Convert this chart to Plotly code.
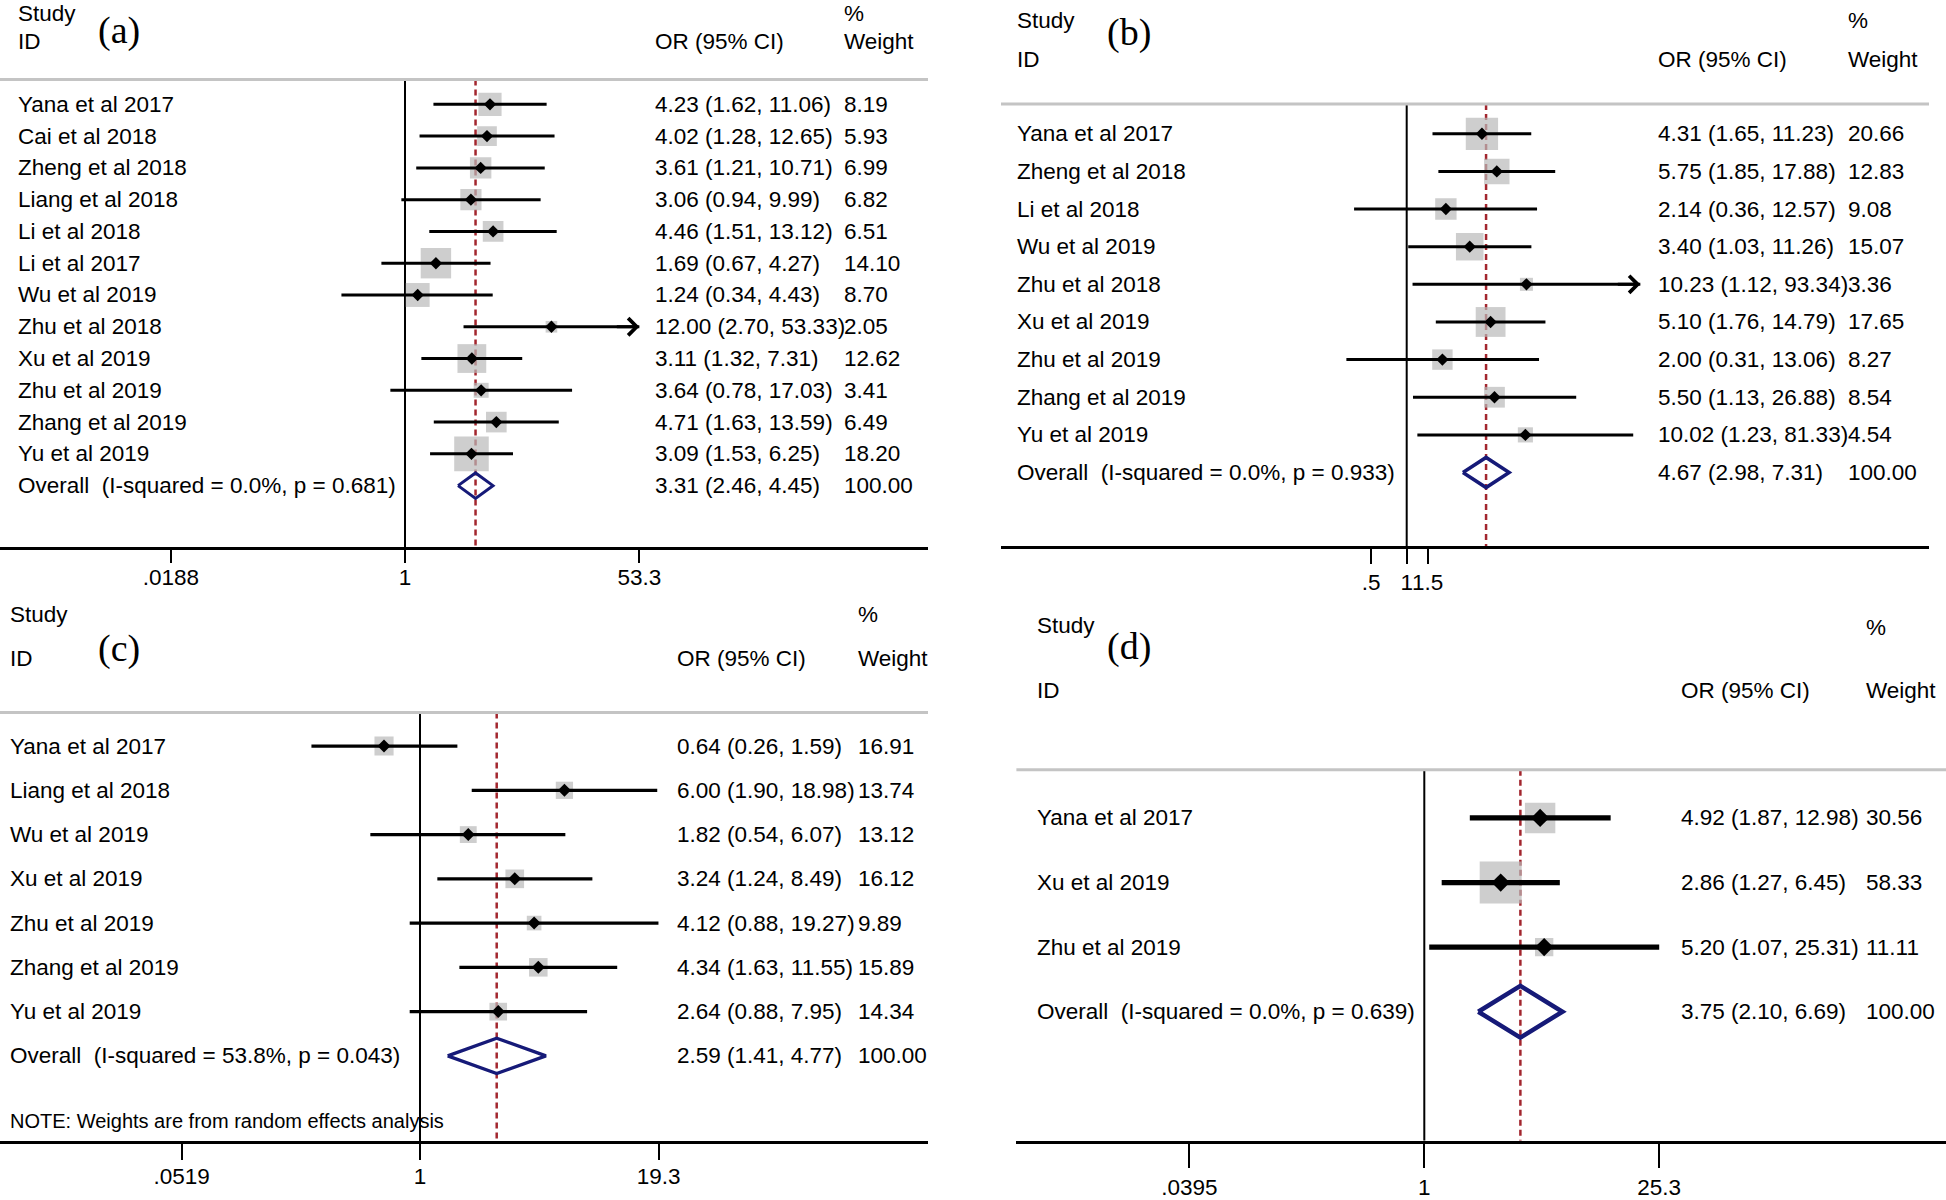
import numpy as np
import plotly.graph_objects as go

W, H = 1946, 1200
OFF = 0     # body margin is removed in the page, so the plot sits at (0, 0)
PAD = 3     # inner padding of annotation text

# ---- panel (a) ----
a_study = ["Yana et al 2017", "Cai et al 2018", "Zheng et al 2018", "Liang et al 2018",
           "Li et al 2018", "Li et al 2017", "Wu et al 2019", "Zhu et al 2018",
           "Xu et al 2019", "Zhu et al 2019", "Zhang et al 2019", "Yu et al 2019"]
a_or = [4.23, 4.02, 3.61, 3.06, 4.46, 1.69, 1.24, 12.00, 3.11, 3.64, 4.71, 3.09]
a_lo = [1.62, 1.28, 1.21, 0.94, 1.51, 0.67, 0.34, 2.70, 1.32, 0.78, 1.63, 1.53]
a_hi = [11.06, 12.65, 10.71, 9.99, 13.12, 4.27, 4.43, 53.33, 7.31, 17.03, 13.59, 6.25]
a_wt = [8.19, 5.93, 6.99, 6.82, 6.51, 14.10, 8.70, 2.05, 12.62, 3.41, 6.49, 18.20]
a_overall = [3.31, 2.46, 4.45]
a_overall_label = "Overall  (I-squared = 0.0%, p = 0.681)"
a_ticks = [0.0188, 1, 53.3]
a_ticktext = [".0188", "1", "53.3"]
a_arrows = ["Zhu et al 2018"]

# ---- panel (b) ----
b_study = ["Yana et al 2017", "Zheng et al 2018", "Li et al 2018", "Wu et al 2019",
           "Zhu et al 2018", "Xu et al 2019", "Zhu et al 2019", "Zhang et al 2019",
           "Yu et al 2019"]
b_or = [4.31, 5.75, 2.14, 3.40, 10.23, 5.10, 2.00, 5.50, 10.02]
b_lo = [1.65, 1.85, 0.36, 1.03, 1.12, 1.76, 0.31, 1.13, 1.23]
b_hi = [11.23, 17.88, 12.57, 11.26, 93.34, 14.79, 13.06, 26.88, 81.33]
b_wt = [20.66, 12.83, 9.08, 15.07, 3.36, 17.65, 8.27, 8.54, 4.54]
b_overall = [4.67, 2.98, 7.31]
b_overall_label = "Overall  (I-squared = 0.0%, p = 0.933)"
b_ticks = [0.5, 1, 1.5]
b_ticktext = [".5", "1", "1.5"]
b_arrows = ["Zhu et al 2018"]

# ---- panel (c) ----
c_study = ["Yana et al 2017", "Liang et al 2018", "Wu et al 2019", "Xu et al 2019",
           "Zhu et al 2019", "Zhang et al 2019", "Yu et al 2019"]
c_or = [0.64, 6.00, 1.82, 3.24, 4.12, 4.34, 2.64]
c_lo = [0.26, 1.90, 0.54, 1.24, 0.88, 1.63, 0.88]
c_hi = [1.59, 18.98, 6.07, 8.49, 19.27, 11.55, 7.95]
c_wt = [16.91, 13.74, 13.12, 16.12, 9.89, 15.89, 14.34]
c_overall = [2.59, 1.41, 4.77]
c_overall_label = "Overall  (I-squared = 53.8%, p = 0.043)"
c_ticks = [0.0519, 1, 19.3]
c_ticktext = [".0519", "1", "19.3"]
c_note = "NOTE: Weights are from random effects analysis"

# ---- panel (d) ----
d_study = ["Yana et al 2017", "Xu et al 2019", "Zhu et al 2019"]
d_or = [4.92, 2.86, 5.20]
d_lo = [1.87, 1.27, 1.07]
d_hi = [12.98, 6.45, 25.31]
d_wt = [30.56, 58.33, 11.11]
d_overall = [3.75, 2.10, 6.69]
d_overall_label = "Overall  (I-squared = 0.0%, p = 0.639)"
d_ticks = [0.0395, 1, 25.3]
d_ticktext = [".0395", "1", "25.3"]

FONT = "Liberation Sans, Arial, sans-serif"
SERIF = "Liberation Serif, Times New Roman, serif"
FS = 22.5
GRAY_BOX = "#b9b9b9"
NAVY = "#161a78"
RED = "#a3262e"

# pixel placement of each panel on the page (layout only)
panels = [
    dict(tag="(a)", study=a_study, est=a_or, lo=a_lo, hi=a_hi, wt=a_wt, overall=a_overall,
         overall_label=a_overall_label, ticks=a_ticks, ticktext=a_ticktext, arrows=a_arrows, note=None,
         left=0, right=928, one=405, ppl=58.93, top=79.6, bottom=548, row0=104.5, gap=31.83,
         label_x=18.6, or_x=656, wt_x=845, study_y=13.5, id_y=41.3, pct_y=13.5, tag_x=99, tag_y=30.6,
         box_k=8.1, ci_w=3, dot=9.5, dia_w=3, ticklen=13, standoff=-5),
    dict(tag="(b)", study=b_study, est=b_or, lo=b_lo, hi=b_hi, wt=b_wt, overall=b_overall,
         overall_label=b_overall_label, ticks=b_ticks, ticktext=b_ticktext, arrows=b_arrows, note=None,
         left=1001, right=1929, one=1406.7, ppl=51.5, top=104.1, bottom=547.3, row0=134, gap=37.7,
         label_x=1018.3, or_x=1658.7, wt_x=1849.2, study_y=21, id_y=59.3, pct_y=21, tag_x=1108, tag_y=32.5,
         box_k=7.1, ci_w=3, dot=9.5, dia_w=3.5, ticklen=15, standoff=-1),
    dict(tag="(c)", study=c_study, est=c_or, lo=c_lo, hi=c_hi, wt=c_wt, overall=c_overall,
         overall_label=c_overall_label, ticks=c_ticks, ticktext=c_ticktext, arrows=[], note=c_note,
         left=0, right=928, one=420, ppl=80.6, top=713.7, bottom=1143.4, row0=747.3, gap=44.33,
         label_x=10.5, or_x=677.6, wt_x=859.4, study_y=615.3, id_y=659.3, pct_y=615.3, tag_x=99, tag_y=649.8,
         note_y=1122.4, box_k=4.65, ci_w=3.2, dot=10, dia_w=3.3, ticklen=16, standoff=-3),
    dict(tag="(d)", study=d_study, est=d_or, lo=d_lo, hi=d_hi, wt=d_wt, overall=d_overall,
         overall_label=d_overall_label, ticks=d_ticks, ticktext=d_ticktext, arrows=[], note=None,
         left=1016.4, right=W, one=1424.3, ppl=72.7, top=771, bottom=1142.7, row0=819.3, gap=64.7,
         label_x=1038.2, or_x=1682.3, wt_x=1866.6, study_y=626.8, id_y=691.8, pct_y=628.7, tag_x=1108, tag_y=647.8,
         box_k=5.5, ci_w=5.3, dot=14, dia_w=4.5, ticklen=24, standoff=0),
]


def fx(px):
    return (px - OFF) / W


def fy(py):
    return 1 - (py - OFF) / H


fig = go.Figure()
annotations = []
shapes = []


def txt(x, y, s, yref="paper", size=FS, family=FONT):
    return dict(x=fx(x - PAD), y=y, xref="paper", yref=yref, text=s, showarrow=False,
                xanchor="left", yanchor="middle", font=dict(family=family, size=size, color="black"))


for i, p in enumerate(panels, start=1):
    sfx = "" if i == 1 else str(i)
    xa, ya = "x" + sfx, "y" + sfx
    n = len(p["study"])
    rows = list(range(n))
    top_u = (p["top"] - p["row0"]) / p["gap"]
    bot_u = (p["bottom"] - p["row0"]) / p["gap"]
    left_ln = (p["left"] - p["one"]) / p["ppl"]
    right_ln = (p["right"] - p["one"]) / p["ppl"]

    fig.update_layout({
        "xaxis" + sfx: dict(type="log", domain=[fx(p["left"]), fx(p["right"])],
                            range=[left_ln / np.log(10), right_ln / np.log(10)], anchor=ya,
                            showgrid=False, zeroline=False, showline=True, linecolor="black", linewidth=2.5,
                            ticks="outside", ticklen=p["ticklen"], tickwidth=2, tickcolor="black",
                            tickvals=p["ticks"], ticktext=p["ticktext"], tickangle=0,
                            ticklabelstandoff=p["standoff"],
                            tickfont=dict(family=FONT, size=FS, color="black")),
        "yaxis" + sfx: dict(domain=[fy(p["bottom"]), fy(p["top"])], range=[bot_u, top_u],
                            anchor=xa, visible=False),
    })

    # gray rule under the header
    shapes.append(dict(type="line", xref=xa + " domain", yref=ya + " domain", x0=0, x1=1, y0=1, y1=1,
                       line=dict(color="#c4c4c4", width=3)))

    # null line and overall-effect line
    fig.add_trace(go.Scatter(x=[1, 1], y=[top_u, bot_u], mode="lines", line=dict(color="black", width=2),
                             xaxis=xa, yaxis=ya, hoverinfo="skip"))
    ov, ov_lo, ov_hi = p["overall"]
    fig.add_trace(go.Scatter(x=[ov, ov], y=[top_u, bot_u], mode="lines",
                             line=dict(color=RED, width=2.5, dash="6px,4px"),
                             xaxis=xa, yaxis=ya, hoverinfo="skip"))

    # weight boxes
    fig.add_trace(go.Scatter(x=p["est"], y=rows, mode="markers",
                             marker=dict(symbol="square", color=GRAY_BOX,
                                         size=[p["box_k"] * np.sqrt(w) for w in p["wt"]], line=dict(width=0)),
                             xaxis=xa, yaxis=ya, hoverinfo="skip"))

    # confidence intervals
    cx, cy = [], []
    for r, lo, hi in zip(rows, p["lo"], p["hi"]):
        cx += [lo, hi, None]
        cy += [r, r, None]
    fig.add_trace(go.Scatter(x=cx, y=cy, mode="lines", line=dict(color="black", width=p["ci_w"]),
                             xaxis=xa, yaxis=ya, hoverinfo="skip"))

    # point estimates
    fig.add_trace(go.Scatter(x=p["est"], y=rows, mode="markers",
                             marker=dict(symbol="diamond", color="black", size=p["dot"], line=dict(width=0)),
                             xaxis=xa, yaxis=ya, hoverinfo="skip"))

    # overall diamond
    fig.add_trace(go.Scatter(x=[ov_lo, ov, ov_hi, ov, ov_lo], y=[n, n - 0.4, n, n + 0.4, n], mode="lines",
                             line=dict(color=NAVY, width=p["dia_w"]), xaxis=xa, yaxis=ya, hoverinfo="skip"))

    # truncated CI arrows
    for s, r, hi in zip(p["study"], rows, p["hi"]):
        if s in p["arrows"]:
            annotations.append(dict(x=np.log10(hi), y=r, xref=xa, yref=ya, ax=-24, ay=0, text="",
                                    showarrow=True, arrowhead=4, arrowsize=1.1, arrowwidth=p["ci_w"],
                                    arrowcolor="black"))

    # study rows text
    for s, r, e, lo, hi, w in zip(p["study"], rows, p["est"], p["lo"], p["hi"], p["wt"]):
        annotations.append(txt(p["label_x"], r, s, yref=ya))
        annotations.append(txt(p["or_x"], r, f"{e:.2f} ({lo:.2f}, {hi:.2f})", yref=ya))
        annotations.append(txt(p["wt_x"], r, f"{w:.2f}", yref=ya))
    annotations.append(txt(p["label_x"], n, p["overall_label"], yref=ya))
    annotations.append(txt(p["or_x"], n, f"{ov:.2f} ({ov_lo:.2f}, {ov_hi:.2f})", yref=ya))
    annotations.append(txt(p["wt_x"], n, f"{100:.2f}", yref=ya))

    # headers
    annotations.append(txt(p["label_x"], fy(p["study_y"]), "Study"))
    annotations.append(txt(p["label_x"], fy(p["id_y"]), "ID"))
    annotations.append(txt(p["or_x"], fy(p["id_y"]), "OR (95% CI)"))
    annotations.append(txt(p["wt_x"], fy(p["pct_y"]), "%"))
    annotations.append(txt(p["wt_x"], fy(p["id_y"]), "Weight"))
    annotations.append(txt(p["tag_x"], fy(p["tag_y"]), p["tag"], size=38, family=SERIF))
    if p["note"]:
        annotations.append(txt(p["label_x"], fy(p["note_y"]), p["note"], size=20))

fig.update_layout(
    width=W, height=H,
    margin=dict(l=0, r=0, t=0, b=0),
    paper_bgcolor="white", plot_bgcolor="white",
    showlegend=False,
    annotations=annotations,
    shapes=shapes,
)

fig.write_html("out.html", config={"displayModeBar": False},
               post_script="document.body.style.margin = '0';")
